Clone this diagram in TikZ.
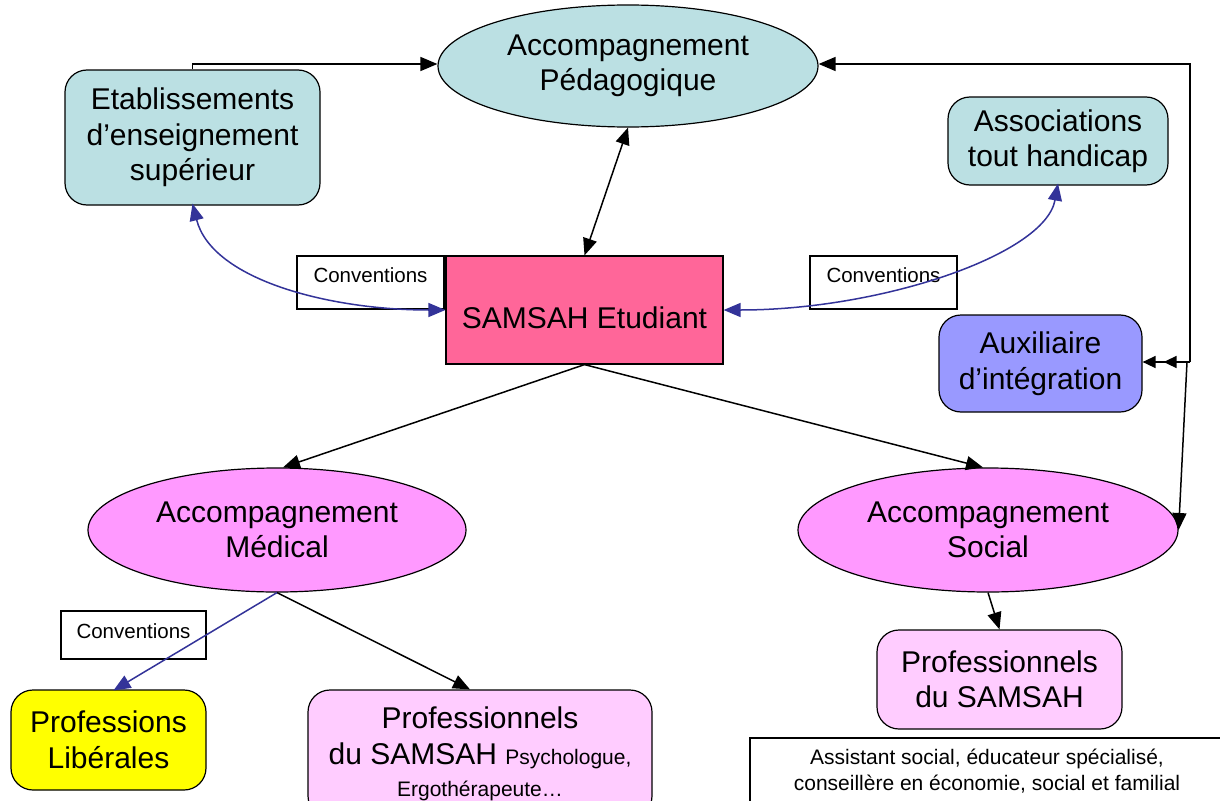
\documentclass[tikz,border=0pt]{standalone}
\usepackage{fontspec}
\setmainfont{Liberation Sans}
\usetikzlibrary{arrows.meta,shapes.geometric}

\definecolor{pedcyan}{RGB}{187,224,227}
\definecolor{samsahpink}{RGB}{255,102,153}
\definecolor{ovalpink}{RGB}{255,153,255}
\definecolor{palepink}{RGB}{255,204,255}
\definecolor{auxblue}{RGB}{153,153,255}
\definecolor{libyellow}{RGB}{255,255,0}
\definecolor{convblue}{RGB}{51,51,153}

\begin{document}
\begin{tikzpicture}[x=1pt,y=-1pt,
  big/.style={font=\fontsize{30}{35.5}\selectfont, align=center, inner sep=0pt},
  roundbox/.style={big, draw, line width=1.2pt, rounded corners=22pt},
  oval/.style={big, ellipse, draw, line width=1.2pt},
  convbox/.style={draw, line width=1.2pt, fill=white, inner sep=0pt,
    font=\fontsize{20.5}{24}\selectfont},
  link/.style={line width=1.5pt, -{Triangle[length=17pt,width=14pt]}},
  linkboth/.style={line width=1.5pt, {Triangle[length=17pt,width=14pt]}-{Triangle[length=17pt,width=14pt]}},
  conv/.style={line width=1.5pt, color=convblue, -{Triangle[length=17pt,width=14pt]}},
  convboth/.style={line width=1.5pt, color=convblue, {Triangle[length=17pt,width=14pt]}-{Triangle[length=17pt,width=14pt]}},
  linkdouble/.style={line width=1.5pt, -{Triangle[length=13pt,width=12pt,sep=8pt]Triangle[length=13pt,width=12pt]}}
]
\useasboundingbox (0,0) rectangle (1220,800);
\clip (0,0) rectangle (1220,800);
\fill[white] (0,0) rectangle (1220,800);

% main nodes
\node[oval, fill=pedcyan, minimum width=380pt, minimum height=122pt] (pedag) at (628,66) {Accompagnement\\Pédagogique};
\node[roundbox, fill=pedcyan, minimum width=255pt, minimum height=135pt] (etab) at (192.5,137.5) {Etablissements\\d’enseignement\\supérieur};
\node[roundbox, fill=pedcyan, minimum width=220pt, minimum height=88pt] (assoc) at (1058,141) {Associations\\tout handicap};
\node[big, draw, line width=1.2pt, fill=samsahpink, minimum width=277pt, minimum height=108pt, text height=40pt, text depth=3pt] (samsah) at (584.5,310) {SAMSAH Etudiant};
\node[roundbox, fill=auxblue, minimum width=203pt, minimum height=97pt] (aux) at (1040.5,363.5) {Auxiliaire\\d’intégration};
\node[oval, fill=ovalpink, minimum width=378pt, minimum height=124pt] (medical) at (277,530) {Accompagnement\\Médical};
\node[oval, fill=ovalpink, minimum width=380pt, minimum height=124pt] (social) at (988,530) {Accompagnement\\Social};
\node[roundbox, fill=palepink, minimum width=245pt, minimum height=99pt] (profsoc) at (999.5,679.5) {Professionnels\\du SAMSAH};
\node[roundbox, fill=libyellow, minimum width=195pt, minimum height=100pt] (liberal) at (108.5,740) {Professions\\Libérales};
\node[roundbox, fill=palepink, minimum width=344pt, minimum height=128pt] (profmed) at (480,754)
  {Professionnels\\du SAMSAH {\fontsize{21}{24}\selectfont Psychologue,}\\[-3pt]{\fontsize{21}{24}\selectfont Ergothérapeute…}};
\node[draw, line width=1.2pt, fill=white, align=center, inner sep=0pt, minimum width=474pt, minimum height=66pt,
  font=\fontsize{21}{26}\selectfont] (metiers) at (987,771)
  {Assistant social, éducateur spécialisé,\\conseillère en économie, social et familial};

% convention labels
\node[convbox, minimum width=147pt, text height=26.5pt, text depth=26.5pt] (convL) at (370.5,282.5) {Conventions};
\node[convbox, minimum width=147pt, text height=26.5pt, text depth=26.5pt] (convR) at (883.5,282.5) {Conventions};
\node[convbox, minimum width=145pt, text height=27pt, text depth=21pt] (convB) at (133.5,635) {Conventions};

% junctions on the right-hand side
\coordinate (j1) at (1190,362);
\coordinate (j2) at (1187,362);

% black connectors
\draw[link] (etab.north) |- ([yshift=2pt]pedag.west);
\draw[link] (j1) |- ([yshift=2pt]pedag.east);
\draw[linkdouble] (j1) -- (aux.east |- j1);
\draw[link] (j2) -- (social.east);
\draw[linkboth] (pedag.south) -- (samsah.north);
\draw[link] (samsah.south) -- ([xshift=6pt]medical.north);
\draw[link] (samsah.south) -- ([xshift=-5pt]social.north);
\draw[link] (medical.south) -- ([xshift=-10pt]profmed.north);
\draw[link] (social.south) -- (profsoc.north);

% convention links
\draw[convboth] ([yshift=2pt]etab.south) .. controls (212,280) and (330,310) .. (samsah.west |- 0,310);
\draw[convboth] (samsah.east |- 0,310) .. controls (880,310) and (1045,255) .. ([yshift=2pt]assoc.south);
\draw[conv] (medical.south) -- ([xshift=5pt,yshift=-1pt]liberal.north);
\end{tikzpicture}
\end{document}
